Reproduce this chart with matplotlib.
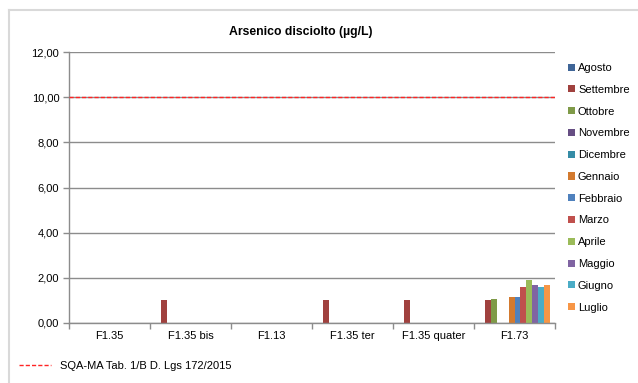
import numpy as np
import matplotlib.pyplot as plt
from matplotlib.lines import Line2D
from matplotlib.patches import Patch
from matplotlib.ticker import FuncFormatter

plt.rcParams['font.family'] = ['Liberation Sans', 'DejaVu Sans']

stazioni = ["F1.35", "F1.35 bis", "F1.13", "F1.35 ter", "F1.35 quater", "F1.73"]
mesi = ["Agosto", "Settembre", "Ottobre", "Novembre", "Dicembre", "Gennaio",
        "Febbraio", "Marzo", "Aprile", "Maggio", "Giugno", "Luglio"]
colori = ["#3F6597", "#A0413E", "#7F9A48", "#664E83", "#358CA6", "#D37A2F",
          "#4F81BD", "#C0504D", "#9BBB59", "#8064A2", "#4BACC6", "#F79646"]

nan = np.nan
agosto    = [nan, nan, nan, nan, nan, nan]
settembre = [nan, 1.0, nan, 1.0, 1.0, 1.0]
ottobre   = [nan, nan, nan, nan, nan, 1.05]
novembre  = [nan, nan, nan, nan, nan, nan]
dicembre  = [nan, nan, nan, nan, nan, nan]
gennaio   = [nan, nan, nan, nan, nan, 1.15]
febbraio  = [nan, nan, nan, nan, nan, 1.15]
marzo     = [nan, nan, nan, nan, nan, 1.6]
aprile    = [nan, nan, nan, nan, nan, 1.9]
maggio    = [nan, nan, nan, nan, nan, 1.7]
giugno    = [nan, nan, nan, nan, nan, 1.6]
luglio    = [nan, nan, nan, nan, nan, 1.7]
serie = [agosto, settembre, ottobre, novembre, dicembre, gennaio,
         febbraio, marzo, aprile, maggio, giugno, luglio]

sqa_ma = 10.0  # SQA-MA Tab. 1/B D. Lgs 172/2015

fs = 8.0
grigio = "#8C8C8C"
rosso = "#FF2424"

fig = plt.figure(figsize=(6.38, 3.83), dpi=100)
ax = fig.add_axes([69 / 638, 1 - 323 / 383, 486 / 638, 271 / 383])

x = np.arange(len(stazioni))
w = 0.074
for i, (vals, col) in enumerate(zip(serie, colori)):
    ax.bar(x - 6 * w + (i + 0.5) * w, vals, width=w, color=col, label=mesi[i])

ax.axhline(sqa_ma, color=rosso, lw=1.0, linestyle=(0, (3, 1.5)), zorder=3)

ax.set_xlim(-0.5, len(stazioni) - 0.5)
ax.set_ylim(0, 12)
ax.set_yticks(np.arange(0, 12.1, 2))
ax.yaxis.set_major_formatter(FuncFormatter(lambda v, p: f"{v:.2f}".replace(".", ",")))
ax.set_xticks(x)
ax.set_xticklabels(stazioni)
ax.set_xticks(np.arange(-0.5, len(stazioni), 1), minor=True)
ax.tick_params(axis="x", which="major", length=0, pad=6, labelsize=fs)
ax.tick_params(axis="x", which="minor", length=4, width=1, color=grigio, direction="out")
ax.tick_params(axis="y", length=4, width=1, color=grigio, pad=3, labelsize=fs)

ax.grid(axis="y", color=grigio, lw=1.0)
ax.set_axisbelow(True)
for s in ["top", "right"]:
    ax.spines[s].set_visible(False)
for s in ["left", "bottom"]:
    ax.spines[s].set_color(grigio)
    ax.spines[s].set_linewidth(1.0)

fig.text(301 / 638, 1 - 32 / 383, "Arsenico disciolto (µg/L)", ha="center", va="center",
         fontsize=8.8, fontweight="bold")

# legenda mesi a destra
maniglie = [Patch(facecolor=c, edgecolor="none") for c in colori]
fig.legend(maniglie, mesi, loc="upper left", bbox_to_anchor=(568 / 638, 1 - 63 / 383),
           frameon=False, fontsize=fs, handlelength=0.6, handleheight=0.6,
           handletextpad=0.3, labelspacing=1.06, borderpad=0, borderaxespad=0)

# legenda della soglia in basso
linea = Line2D([], [], color=rosso, lw=1.0, linestyle=(0, (3, 1.5)))
fig.legend([linea], ["SQA-MA Tab. 1/B D. Lgs 172/2015"], loc="center left",
           bbox_to_anchor=(19 / 638, 1 - 366 / 383), frameon=False, fontsize=fs,
           handlelength=2.9, handletextpad=0.75, borderpad=0, borderaxespad=0)

# bordo del grafico
fig.add_artist(Line2D([9 / 638, 9 / 638], [0, 1 - 10 / 383], color="#D9D9D9", lw=1.5))
fig.add_artist(Line2D([9 / 638, 1], [1 - 10 / 383, 1 - 10 / 383], color="#D9D9D9", lw=1.5))

fig.savefig("out.png", dpi=100)
